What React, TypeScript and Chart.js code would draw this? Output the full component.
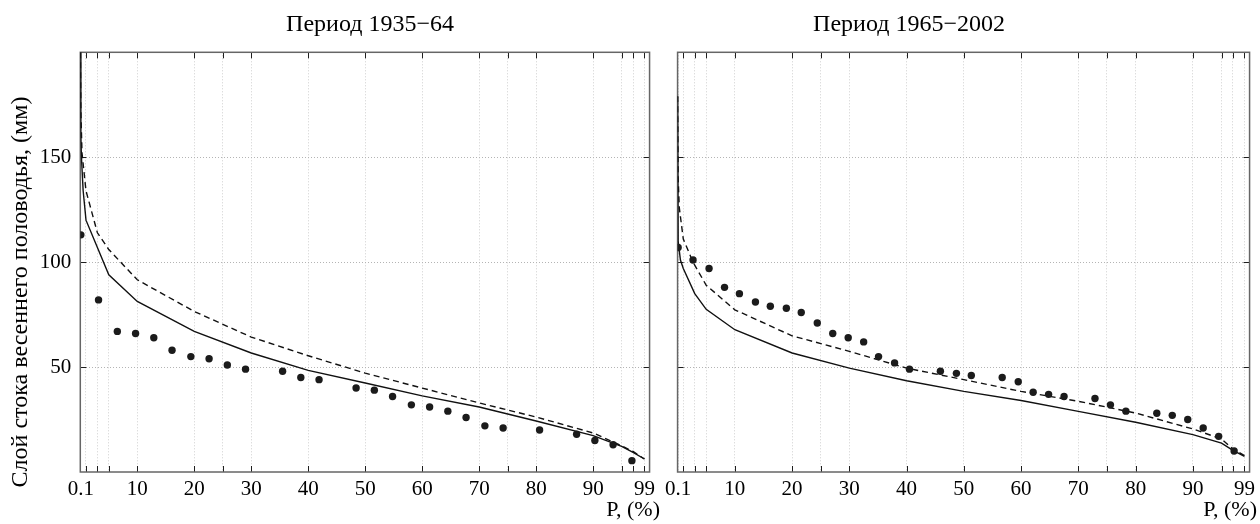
import React, { useEffect, useRef } from "react";
import { Chart, registerables } from "chart.js";

Chart.register(...registerables);

const FONT = "'Liberation Serif', 'Times New Roman', serif";

// x axis: exceedance probability P, %
const xTickValues = [0.1, 1, 3, 5, 10, 20, 25, 30, 40, 50, 60, 70, 75, 80, 90, 95, 97, 99];
const xTickLabels = ["0.1", "", "", "", "10", "20", "", "30", "40", "50", "60", "70", "", "80", "90", "", "", "99"];
// y axis: runoff layer, mm
const yTickValues = [50, 100, 150];
const yTickLabels = ["50", "100", "150"];

const panelTitles = ["Период 1935−64", "Период 1965−2002"];
const yTitle = "Слой стока весеннего половодья, (мм)";
const xTitle = "P, (%)";

// Period 1935–64: empirical points
const p1ObsP = [0.1, 3.2, 6.5, 9.7, 12.9, 16.1, 19.4, 22.6, 25.8, 29.0, 35.5, 38.7, 41.9, 48.4, 51.6, 54.8, 58.1, 61.3, 64.5, 67.7, 71.0, 74.2, 80.6, 87.1, 90.3, 93.5, 96.8];
const p1ObsQ = [113, 82, 67, 66, 64, 58, 55, 54, 51, 49, 48, 45, 44, 40, 39, 36, 32, 31, 29, 26, 22, 21, 20, 18, 15, 13, 5.4];
// Period 1935–64: curves
const p1SolidP = [0.01, 0.1, 0.2, 0.5, 1, 5, 10, 20, 30, 40, 50, 60, 70, 80, 90, 95, 97, 99];
const p1SolidQ = [200, 160, 150, 134, 120, 94, 81.3, 67, 56.7, 48.4, 42.4, 36.3, 31, 24.3, 17.3, 12.2, 9.4, 6.2];
const p1DashP = [0.02, 0.1, 0.3, 1, 3, 5, 10, 20, 30, 40, 50, 60, 70, 80, 90, 95, 97, 99];
const p1DashQ = [200, 172, 152, 134, 114, 106, 91.6, 76.5, 64.3, 55.4, 47.1, 40, 32.9, 26.2, 18.6, 12.5, 9.8, 6.2];

// Period 1965–2002: empirical points
const p2ObsP = [0.1, 2.7, 5.5, 8.2, 10.8, 13.6, 16.2, 19.0, 21.6, 24.4, 27.1, 29.8, 32.5, 35.1, 37.9, 40.5, 45.9, 48.7, 51.3, 56.7, 59.5, 62.1, 64.8, 67.5, 72.9, 75.6, 78.3, 83.7, 86.4, 89.1, 91.8, 94.5, 97.2];
const p2ObsQ = [107, 101, 97, 88, 85, 81, 79, 78, 76, 71, 66, 64, 62, 55, 52, 49, 48, 47, 46, 45, 43, 38, 37, 36, 35, 32, 29, 28, 27, 25, 21, 17, 10];
// Period 1965–2002: curves
const p2SolidP = [0.01, 0.1, 0.5, 1, 3, 5, 10, 20, 30, 40, 50, 60, 70, 80, 90, 95, 97, 99];
const p2SolidQ = [179, 110, 101, 97, 85, 77.5, 67.8, 56.7, 49.5, 43.5, 38.4, 34.1, 28.9, 23.7, 17.8, 13.8, 10.3, 7.5];
const p2DashP = [0.01, 0.1, 0.3, 1, 2.7, 5, 10, 20, 30, 40, 50, 60, 70, 80, 90, 95, 97, 99];
const p2DashQ = [179, 140, 126, 111, 100, 89, 77.3, 64.9, 57.5, 49.5, 44, 38.4, 33.7, 28.1, 20.5, 15.7, 11, 7.8];

const zip = (xs: number[], ys: number[]) => xs.map((x, i) => ({ x, y: ys[i] }));

const frameTicks = {
  id: "frameTicks",
  beforeDatasetsDraw(chart: any) {
    const { ctx, chartArea: a, scales } = chart;
    const xs = scales.x;
    const ys = scales.y;
    ctx.save();
    ctx.strokeStyle = "#1e1e1e";
    ctx.lineWidth = 1;
    ctx.beginPath();
    xTickValues.forEach((v) => {
      if (v < 0.5) return;
      const px = Math.round(xs.getPixelForValue(v)) + 0.5;
      ctx.moveTo(px, a.bottom);
      ctx.lineTo(px, a.bottom - 6);
      ctx.moveTo(px, a.top);
      ctx.lineTo(px, a.top + 6);
    });
    yTickValues.forEach((v) => {
      const py = Math.round(ys.getPixelForValue(v)) + 0.5;
      ctx.moveTo(a.left, py);
      ctx.lineTo(a.left + 6, py);
      ctx.moveTo(a.right, py);
      ctx.lineTo(a.right - 6, py);
    });
    ctx.stroke();
    ctx.strokeStyle = "#666666";
    ctx.lineWidth = 1.5;
    ctx.strokeRect(a.left, a.top, a.right - a.left, a.bottom - a.top);
    ctx.restore();
  },
};

function makeConfig(
  obsP: number[], obsQ: number[],
  solidP: number[], solidQ: number[],
  dashP: number[], dashQ: number[],
  showY: boolean, yWidth: number, padRight: number
): any {
  return {
    type: "scatter",
    data: {
      datasets: [
        {
          label: "obs",
          data: zip(obsP, obsQ),
          showLine: false,
          pointRadius: 3.7,
          pointBackgroundColor: "#1b1b1b",
          pointBorderWidth: 0,
        },
        {
          label: "solid",
          data: zip(solidP, solidQ),
          showLine: true,
          pointRadius: 0,
          borderColor: "#111111",
          borderWidth: 1.4,
          tension: 0,
        },
        {
          label: "dashed",
          data: zip(dashP, dashQ),
          showLine: true,
          pointRadius: 0,
          borderColor: "#111111",
          borderWidth: 1.4,
          borderDash: [6, 4],
          tension: 0,
        },
      ],
    },
    options: {
      responsive: false,
      animation: false,
      events: [],
      layout: { padding: { left: 0, right: padRight, top: 52.3, bottom: 0 } },
      plugins: {
        legend: { display: false },
        tooltip: { enabled: false },
        title: { display: false },
      },
      scales: {
        x: {
          type: "linear",
          position: "bottom",
          min: 0,
          max: 99.9,
          afterBuildTicks: (s: any) => {
            s.ticks = xTickValues.map((v) => ({ value: v }));
          },
          afterFit: (s: any) => {
            s.height = 52;
          },
          grid: { color: "#cfcfcf", lineWidth: 1, drawTicks: false },
          border: { display: false, dash: [1, 2] },
          ticks: {
            autoSkip: false,
            maxRotation: 0,
            minRotation: 0,
            padding: 5,
            color: "#000",
            font: { family: FONT, size: 21 },
            callback: (v: number) => {
              const i = xTickValues.indexOf(v);
              return i >= 0 ? xTickLabels[i] : "";
            },
          },
        },
        y: {
          type: "linear",
          position: "left",
          min: 0,
          max: 200,
          afterBuildTicks: (s: any) => {
            s.ticks = yTickValues.map((v) => ({ value: v }));
          },
          afterFit: (s: any) => {
            s.width = yWidth;
          },
          grid: { color: "#b4b4b4", lineWidth: 1, drawTicks: false },
          border: { display: false, dash: [1, 2] },
          ticks: {
            display: showY,
            padding: 9,
            color: "#000",
            font: { family: FONT, size: 21 },
            callback: (v: number) => {
              const i = yTickValues.indexOf(v);
              return i >= 0 ? yTickLabels[i] : "";
            },
          },
        },
      },
    },
    plugins: [frameTicks],
  };
}

export default function App() {
  const ref1 = useRef<HTMLCanvasElement>(null);
  const ref2 = useRef<HTMLCanvasElement>(null);

  useEffect(() => {
    const c1 = new Chart(
      ref1.current as HTMLCanvasElement,
      makeConfig(p1ObsP, p1ObsQ, p1SolidP, p1SolidQ, p1DashP, p1DashQ, true, 80.3, 7)
    );
    const c2 = new Chart(
      ref2.current as HTMLCanvasElement,
      makeConfig(p2ObsP, p2ObsQ, p2SolidP, p2SolidQ, p2DashP, p2DashQ, false, 16.7, 10)
    );
    return () => {
      c1.destroy();
      c2.destroy();
    };
  }, []);

  const textBase: React.CSSProperties = {
    position: "absolute",
    fontFamily: FONT,
    color: "#000",
    whiteSpace: "nowrap",
  };

  return (
    <div style={{ position: "absolute", left: 0, top: 0, width: 1260, height: 524, background: "#fff", overflow: "hidden" }}>
      <canvas ref={ref1} width={660} height={524} style={{ position: "absolute", left: 0, top: 0, display: "block" }} />
      <canvas ref={ref2} width={600} height={524} style={{ position: "absolute", left: 660, top: 0, display: "block" }} />
      <div style={{ ...textBase, left: 370, top: 11, fontSize: 24, lineHeight: "24px", transform: "translateX(-50%)" }}>
        {panelTitles[0]}
      </div>
      <div style={{ ...textBase, left: 909, top: 11, fontSize: 24, lineHeight: "24px", transform: "translateX(-50%)" }}>
        {panelTitles[1]}
      </div>
      <div style={{ ...textBase, right: 1260 - 660, top: 497.6, fontSize: 22, lineHeight: "22px" }}>{xTitle}</div>
      <div style={{ ...textBase, right: 1260 - 1257, top: 497.6, fontSize: 22, lineHeight: "22px" }}>{xTitle}</div>
      <div
        style={{
          ...textBase,
          left: 19.4 - 250,
          top: 292 - 12,
          width: 500,
          height: 24,
          fontSize: 24,
          lineHeight: "24px",
          textAlign: "center",
          transform: "rotate(-90deg)",
        }}
      >
        {yTitle}
      </div>
    </div>
  );
}
